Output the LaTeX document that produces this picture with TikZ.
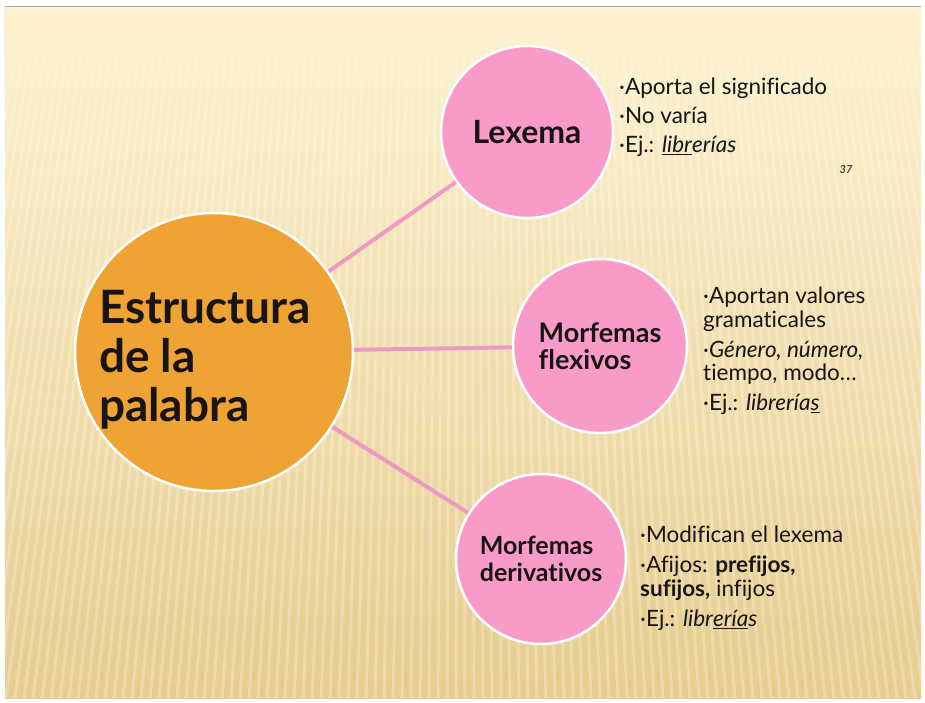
\documentclass[tikz,border=0pt]{standalone}
\usepackage{fontspec}
\setmainfont{Lato}[Ligatures=NoCommon]
\usetikzlibrary{fadings}
\definecolor{creamtop}{RGB}{252,242,208}
\definecolor{creambot}{RGB}{230,204,142}
\definecolor{hubfill}{RGB}{239,163,52}
\definecolor{leaffill}{RGB}{248,155,200}
\definecolor{linkpink}{RGB}{238,152,196}
\definecolor{inkcol}{RGB}{25,20,20}
\tikzfading[name=topfade, top color=transparent!0, bottom color=transparent!100]
\begin{document}
\begin{tikzpicture}[x=1pt,y=-1pt,
    hub/.style={circle, fill=hubfill, draw=white, line width=2.5pt, minimum size=278pt,
      inner sep=0pt, align=left, text=inkcol, font=\fontsize{46}{49}\selectfont\bfseries},
    leaf/.style={circle, fill=leaffill, draw=white, line width=2.5pt, minimum size=170pt,
      inner sep=0pt, align=left, text=inkcol, font=\fontsize{27}{27}\selectfont\bfseries},
    link/.style={draw=linkpink, line width=4pt},
    notes/.style={anchor=north west, inner sep=0pt, align=left, text=inkcol,
      font=\fontsize{22.5}{24}\selectfont}]
  \useasboundingbox (0,0) rectangle (925,702);
  % slide background
  \fill[white] (0,0) rectangle (925,702);
  \shade[top color=creamtop, bottom color=creambot] (5,6) rectangle (921,698);
  \begin{scope}
    \clip (5,40) rectangle (921,698);
    \foreach \x [evaluate=\x as \xt using 0.8*\x+92.4] in {-120,-111,...,1040}
      \draw[white, opacity=0.25, line width=3pt] (\x,698) -- (\xt,40);
  \end{scope}
  \fill[creamtop, path fading=topfade] (5,6) rectangle (921,160);
  \draw[gray!70] (5,6) -- (921,6);

  % circles
  \node[hub] (estructura) at (214,352) {\rule{0pt}{48pt}Estructura\hspace*{18pt}\\de la\\palabra};
  \node[leaf, minimum size=172pt, font=\fontsize{32}{32}\selectfont\bfseries] (lexema) at (527,132) {Lexema};
  \node[leaf, minimum size=174pt] (flexivos) at (600,346) {Morfemas\\flexivos};
  \node[leaf, font=\fontsize{25}{27}\selectfont\bfseries] (derivativos) at (541,559) {Morfemas\\derivativos};

  % connectors
  \draw[link] (estructura) -- (lexema);
  \draw[link] (estructura) -- (flexivos);
  \draw[link] (estructura) -- (derivativos);

  % notes
  \node[notes] (lexnotes) at (619,78) {·Aporta el significado\\[5pt]·No varía\\[5pt]·Ej.: \underline{\textit{libr}}\textit{erías}};
  \node[notes, font=\fontsize{22.5}{23.5}\selectfont] (flexnotes) at (703,287) {·Aportan valores\\gramaticales\\[6.5pt]·\textit{Género, número,}\\tiempo, modo…\\[6.5pt]·Ej.: \textit{librería}\underline{\textit{s}}};
  \node[notes] (derivnotes) at (640,526) {·Modifican el lexema\\[6pt]·Afijos: \textbf{prefijos,}\\\textbf{sufijos,} infijos\\[6pt]·Ej.: \textit{libr}\underline{\textit{ería}}\textit{s}};
  \node[text=inkcol!80, font=\fontsize{11}{11}\selectfont\bfseries\itshape] (slidenum) at (846,170) {37};
\end{tikzpicture}
\end{document}
